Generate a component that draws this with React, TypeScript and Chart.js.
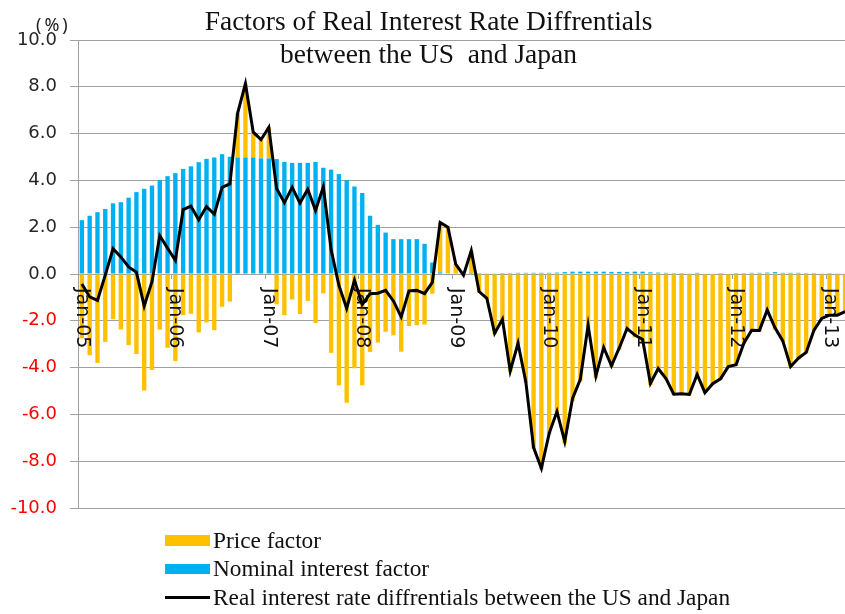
import React, { useEffect, useRef } from "react";
import { Chart, registerables } from "chart.js";

Chart.register(...registerables);

const months = ["Jan", "Feb", "Mar", "Apr", "May", "Jun", "Jul", "Aug", "Sep", "Oct", "Nov", "Dec"];
const years = ["05", "06", "07", "08", "09", "10", "11", "12", "13"];
const categories: string[] = [];
years.forEach((y) => months.forEach((m) => categories.push(`${m}-${y}`)));
const labels = categories.slice(0, 99);

// Nominal interest factor (%)
const nominalFactor = [
  2.30, 2.49, 2.64, 2.78, 3.02, 3.07, 3.26, 3.50, 3.64, 3.78, 4.02, 4.18,
  4.31, 4.49, 4.60, 4.78, 4.92, 4.98, 5.12, 5.01, 4.98, 4.98, 4.98, 4.94,
  4.94, 4.91, 4.79, 4.75, 4.75, 4.75, 4.79, 4.54, 4.46, 4.27, 4.01, 3.74,
  3.46, 2.49, 2.10, 1.77, 1.49, 1.49, 1.49, 1.49, 1.29, 0.49, 0.07, -0.04,
  0.02, 0.02, 0.05, 0.04, 0.03, 0.03, 0.04, 0.04, 0.05, 0.05, 0.05, 0.05,
  0.05, 0.06, 0.08, 0.10, 0.10, 0.10, 0.10, 0.10, 0.09, 0.09, 0.09, 0.10,
  0.10, 0.07, 0.06, 0.05, 0.04, 0.04, 0.03, 0.05, 0.02, 0.02, 0.04, 0.02,
  0.04, 0.04, 0.05, 0.05, 0.06, 0.08, 0.05, 0.05, 0.05, 0.04, 0.04, 0.03,
  0.04, 0.03, 0.03,
];

// Price factor (%)
const priceFactor = [
  -2.75, -3.47, -3.80, -2.90, -1.93, -2.37, -3.04, -3.42, -4.98, -4.10, -2.38, -3.15,
  -3.72, -1.76, -1.70, -2.50, -2.07, -2.40, -1.40, -1.18, 1.90, 3.15, 1.08, 0.80,
  1.33, -1.30, -1.76, -1.09, -1.71, -1.15, -2.09, -0.83, -3.37, -4.76, -5.50, -4.03,
  -4.76, -3.33, -2.93, -2.47, -2.62, -3.32, -2.22, -2.19, -2.16, -0.84, 2.13, 2.05,
  0.40, -0.07, 0.95, -0.79, -1.07, -2.57, -1.98, -4.19, -3.01, -4.65, -7.47, -8.35,
  -6.86, -5.94, -7.24, -5.42, -4.60, -2.29, -4.45, -3.24, -4.01, -3.25, -2.42, -2.71,
  -2.90, -4.75, -4.10, -4.52, -5.18, -5.16, -5.18, -4.34, -5.09, -4.71, -4.52, -3.98,
  -3.92, -3.00, -2.45, -2.46, -1.60, -2.38, -2.91, -4.01, -3.65, -3.39, -2.44, -1.93,
  -1.80, -1.79, -1.64,
];

// Real interest rate differentials between the US and Japan (%)
const realDiff = [
  -0.43, -0.98, -1.13, -0.05, 1.08, 0.73, 0.30, 0.08, -1.37, -0.33, 1.64, 1.10,
  0.58, 2.75, 2.90, 2.32, 2.88, 2.56, 3.70, 3.85, 6.88, 8.13, 6.06, 5.74,
  6.27, 3.65, 3.05, 3.70, 3.03, 3.62, 2.72, 3.73, 1.04, -0.48, -1.47, -0.27,
  -1.30, -0.84, -0.82, -0.70, -1.15, -1.83, -0.72, -0.70, -0.84, -0.36, 2.20, 2.00,
  0.42, -0.05, 1.00, -0.75, -1.04, -2.54, -1.94, -4.15, -2.96, -4.60, -7.42, -8.30,
  -6.81, -5.88, -7.16, -5.32, -4.50, -2.19, -4.35, -3.14, -3.92, -3.16, -2.33, -2.61,
  -2.80, -4.68, -4.04, -4.47, -5.14, -5.12, -5.15, -4.29, -5.07, -4.69, -4.48, -3.96,
  -3.88, -2.96, -2.40, -2.41, -1.54, -2.30, -2.86, -3.96, -3.60, -3.35, -2.40, -1.90,
  -1.76, -1.76, -1.61,
];

const yMin = -10;
const yMax = 10;
const yStep = 2;

const ORANGE = "#FFC000";
const BLUE = "#00B0F0";
const GRID = "#A0A0A0";
const SERIF = '"Liberation Serif", "Times New Roman", serif';
const SANS = '"DejaVu Sans", sans-serif';

const xLabelPlugin = {
  id: "xLabelPlugin",
  beforeDatasetDraw(chart: any, args: any) {
    if (args.index !== 2) return;
    const ctx = chart.ctx;
    const x = chart.scales.x;
    const y = chart.scales.y;
    const y0 = y.getPixelForValue(0);
    const pitch = x.getPixelForValue(1) - x.getPixelForValue(0);
    ctx.save();
    ctx.strokeStyle = GRID;
    ctx.lineWidth = 1;
    ctx.fillStyle = "#111111";
    ctx.font = `19px ${SANS}`;
    ctx.textAlign = "left";
    ctx.textBaseline = "middle";
    labels.forEach((lab, i) => {
      if (!lab.startsWith("Jan")) return;
      const cx = x.getPixelForValue(i);
      const tx = Math.round(cx - pitch / 2) + 0.5;
      ctx.beginPath();
      ctx.moveTo(tx, y0);
      ctx.lineTo(tx, y0 + 5);
      ctx.stroke();
      ctx.save();
      ctx.translate(cx, y0 + 14);
      ctx.rotate(Math.PI / 2);
      ctx.fillText(lab, 0, 0);
      ctx.restore();
    });
    ctx.restore();
  },
};

function ChartCanvas() {
  const ref = useRef<HTMLCanvasElement | null>(null);
  useEffect(() => {
    if (!ref.current) return;
    const chart = new Chart(ref.current, {
      type: "bar",
      data: {
        labels,
        datasets: [
          {
            type: "bar",
            label: "Nominal interest factor",
            data: nominalFactor,
            backgroundColor: BLUE,
            stack: "bars",
            categoryPercentage: 1,
            barPercentage: 0.56,
            order: 1,
          },
          {
            type: "bar",
            label: "Price factor",
            data: priceFactor,
            backgroundColor: ORANGE,
            stack: "bars",
            categoryPercentage: 1,
            barPercentage: 0.56,
            order: 1,
          },
          {
            type: "line",
            label: "Real interest rate diffrentials between the US and Japan",
            data: realDiff,
            borderColor: "#000000",
            borderWidth: 3,
            pointRadius: 0,
            tension: 0,
            fill: false,
            stack: "line",
            order: 0,
          } as any,
        ],
      },
      options: {
        responsive: false,
        animation: false,
        devicePixelRatio: 1,
        layout: { padding: { top: 40, bottom: 106, left: 0, right: 0 } },
        plugins: {
          legend: { display: false },
          title: { display: false },
          tooltip: { enabled: false },
        },
        scales: {
          x: {
            type: "category",
            display: false,
            stacked: true,
            offset: true,
          },
          y: {
            type: "linear",
            stacked: true,
            min: yMin,
            max: yMax,
            ticks: {
              stepSize: yStep,
              padding: 13,
              font: { family: SANS, size: 18 },
              color: (c: any) => (c.tick && c.tick.value < 0 ? "#FF0000" : "#262626"),
              callback: (v: any) => Number(v).toFixed(1),
            },
            grid: {
              color: GRID,
              lineWidth: 1,
              tickLength: 8,
              drawTicks: true,
            },
            border: { display: true, color: GRID, width: 1 },
            afterFit: (s: any) => {
              s.width = 78;
            },
          },
        },
      },
      plugins: [xLabelPlugin],
    });
    return () => chart.destroy();
  }, []);
  return (
    <canvas
      ref={ref}
      width={849}
      height={614}
      style={{ position: "absolute", left: 0, top: 0, width: 849, height: 614 }}
    />
  );
}

const legendItems = [
  { text: "Price factor", color: ORANGE, h: 11 },
  { text: "Nominal interest factor", color: BLUE, h: 10 },
  { text: "Real interest rate diffrentials between the US and Japan", color: "#000000", h: 3 },
];

export default function App() {
  return (
    <div
      style={{
        position: "fixed",
        left: 0,
        top: 0,
        width: 845,
        height: 614,
        overflow: "hidden",
        background: "#ffffff",
      }}
    >
      <ChartCanvas />
      <div
        style={{
          position: "absolute",
          left: 0,
          top: 4,
          width: 857,
          textAlign: "center",
          fontFamily: SERIF,
          fontSize: 27.5,
          lineHeight: "33px",
          color: "#111",
          whiteSpace: "pre",
        }}
      >
        <div>Factors of Real Interest Rate Diffrentials</div>
        <div>{"between the US  and Japan"}</div>
      </div>
      <div
        style={{
          position: "absolute",
          left: 36,
          top: 13,
          fontFamily: '"Noto Sans", sans-serif',
          fontSize: 18,
          letterSpacing: 3,
          lineHeight: "22px",
          color: "#222",
          whiteSpace: "nowrap",
        }}
      >
        (%)
      </div>
      {legendItems.map((it, i) => (
        <div
          key={i}
          style={{
            position: "absolute",
            left: 165,
            top: 526 + i * 28.5,
            height: 28,
            display: "flex",
            alignItems: "center",
            fontFamily: SERIF,
            fontSize: 23.3,
            color: "#111",
            whiteSpace: "nowrap",
          }}
        >
          <span
            style={{
              display: "inline-block",
              width: 45,
              height: it.h,
              background: it.color,
              marginRight: 3,
            }}
          />
          <span>{it.text}</span>
        </div>
      ))}
    </div>
  );
}
